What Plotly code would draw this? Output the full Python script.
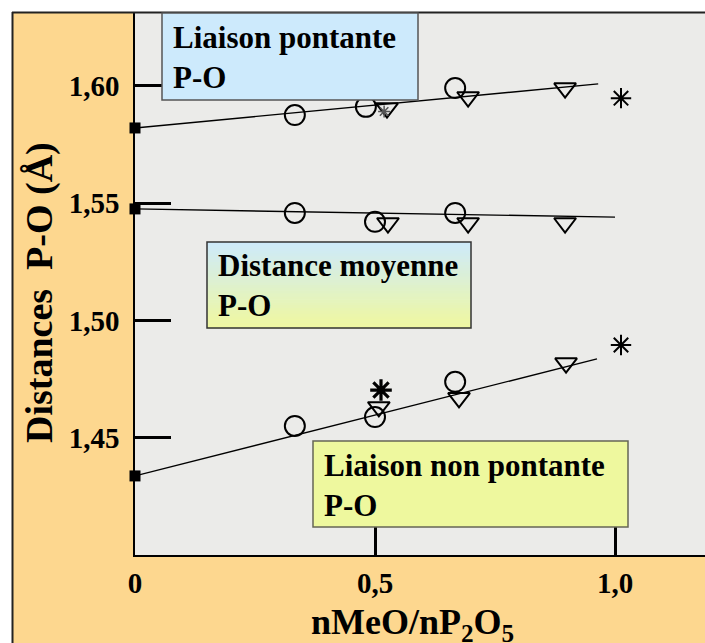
import plotly.graph_objects as go

# ---------------- data ----------------
x_tick_vals = [0.0, 0.5, 1.0]
x_tick_text = ["0", "0,5", "1,0"]
y_tick_vals = [1.45, 1.50, 1.55, 1.60]
y_tick_text = ["1,45", "1,50", "1,55", "1,60"]

# bridging P-O ("Liaison pontante")
br_fit_x = [0.0, 0.965]
br_fit_y = [1.582, 1.6008]
br_circ_x = [0.333, 0.481, 0.667]
br_circ_y = [1.5875, 1.591, 1.599]
br_tri_x = [0.525, 0.694, 0.896]
br_tri_y = [1.5905, 1.5952, 1.599]
br_star_x = [1.0125]
br_star_y = [1.5947]
br_small_star_x = [0.519]
br_small_star_y = [1.589]

# mean P-O ("Distance moyenne")
mean_fit_x = [0.0, 1.0]
mean_fit_y = [1.5475, 1.544]
mean_circ_x = [0.333, 0.5, 0.667]
mean_circ_y = [1.5458, 1.542, 1.5458]
mean_tri_x = [0.527, 0.694, 0.896]
mean_tri_y = [1.5415, 1.5415, 1.5415]

# non-bridging P-O ("Liaison non pontante")
nb_fit_x = [0.0, 0.9625]
nb_fit_y = [1.4337, 1.4836]
nb_circ_x = [0.333, 0.5, 0.667]
nb_circ_y = [1.455, 1.4588, 1.4738]
nb_tri_x = [0.508, 0.675, 0.898]
nb_tri_y = [1.4631, 1.467, 1.4818]
nb_bold_star_x = [0.5125]
nb_bold_star_y = [1.4703]
nb_star_x = [1.0125]
nb_star_y = [1.4895]

# ---------------- layout helpers ----------------
W, H = 705, 643
L, R, T, B = 135, 705, 13, 555   # plot area in pixels

def px(x):  # pixel x -> paper coordinate
    return (x - L) / (R - L)
def py(y):  # pixel y -> paper coordinate
    return (B - y) / (B - T)

SERIF = "Liberation Serif"
ORANGE = "#FDD78F"
PLOTBG = "#EBEBE9"

fig = go.Figure()

def add_group(fx, fy, cx, cy, tx, ty):
    fig.add_trace(go.Scatter(x=fx, y=fy, mode="lines",
                             line=dict(color="black", width=1.4),
                             hoverinfo="skip", showlegend=False))
    fig.add_trace(go.Scatter(x=[fx[0]], y=[fy[0]], mode="markers",
                             marker=dict(symbol="square", size=11, color="black"),
                             cliponaxis=False, showlegend=False))
    fig.add_trace(go.Scatter(x=cx, y=cy, mode="markers",
                             marker=dict(symbol="circle-open", size=20,
                                         color="black", line=dict(width=2)),
                             showlegend=False))
    fig.add_trace(go.Scatter(x=tx, y=ty, mode="markers",
                             marker=dict(symbol="triangle-down-open", size=19,
                                         color="black", line=dict(width=2)),
                             showlegend=False))

add_group(br_fit_x, br_fit_y, br_circ_x, br_circ_y, br_tri_x, br_tri_y)
add_group(mean_fit_x, mean_fit_y, mean_circ_x, mean_circ_y, mean_tri_x, mean_tri_y)
add_group(nb_fit_x, nb_fit_y, nb_circ_x, nb_circ_y, nb_tri_x, nb_tri_y)

def add_star(xs, ys, size, width, color="black"):
    fig.add_trace(go.Scatter(x=xs, y=ys, mode="markers",
                             marker=dict(symbol="asterisk-open", size=size,
                                         color=color, line=dict(width=width, color=color)),
                             cliponaxis=False, showlegend=False))

add_star(br_star_x, br_star_y, 17, 2)
add_star(br_small_star_x, br_small_star_y, 10, 1.5, "#555555")
add_star(nb_star_x, nb_star_y, 17, 2)
add_star(nb_bold_star_x, nb_bold_star_y, 18, 3.2)

shapes = []
# white margin strips outside the orange frame
shapes.append(dict(type="rect", xref="paper", yref="paper", x0=px(0), x1=px(W), y0=py(12), y1=py(0),
                   fillcolor="white", line=dict(width=0), layer="above"))
shapes.append(dict(type="rect", xref="paper", yref="paper", x0=px(0), x1=px(12), y0=py(H), y1=py(0),
                   fillcolor="white", line=dict(width=0), layer="above"))
# frame lines
shapes.append(dict(type="line", xref="paper", yref="paper", x0=px(12), x1=px(W), y0=py(12.5), y1=py(12.5),
                   line=dict(color="#222222", width=2), layer="above"))
shapes.append(dict(type="line", xref="paper", yref="paper", x0=px(12.5), x1=px(12.5), y0=py(12), y1=py(H),
                   line=dict(color="#222222", width=2), layer="above"))

# label boxes
shapes.append(dict(type="rect", xref="paper", yref="paper", x0=px(162), x1=px(418), y0=py(100), y1=py(13),
                   fillcolor="#CDEAFC", line=dict(color="#555555", width=1.5), layer="above"))
# gradient box (blue -> yellow)
top_rgb = (205, 234, 252)
bot_rgb = (240, 248, 158)
n = 30
y_top, y_bot = 242, 328
for i in range(n):
    t = (i + 0.5) / n
    c = tuple(int(round(top_rgb[k] + (bot_rgb[k] - top_rgb[k]) * t)) for k in range(3))
    ya = y_top + (y_bot - y_top) * i / n
    yb = y_top + (y_bot - y_top) * (i + 1) / n
    shapes.append(dict(type="rect", xref="paper", yref="paper", x0=px(207), x1=px(471),
                       y0=py(yb + 0.5), y1=py(ya),
                       fillcolor="rgb(%d,%d,%d)" % c, line=dict(width=0), layer="above"))
shapes.append(dict(type="rect", xref="paper", yref="paper", x0=px(207), x1=px(471), y0=py(y_bot), y1=py(y_top),
                   fillcolor="rgba(0,0,0,0)", line=dict(color="#333333", width=1.5), layer="above"))
shapes.append(dict(type="rect", xref="paper", yref="paper", x0=px(313), x1=px(628), y0=py(527), y1=py(441),
                   fillcolor="#EEF89E", line=dict(color="#666655", width=1.5), layer="above"))

box_font = dict(family=SERIF, size=31, color="black", weight="bold")
annotations = [
    dict(text="Liaison pontante<br>P-O", xref="paper", yref="paper", x=px(171), y=py(58),
         xanchor="left", yanchor="middle", align="left", showarrow=False, font=box_font),
    dict(text="Distance moyenne<br>P-O", xref="paper", yref="paper", x=px(216), y=py(285),
         xanchor="left", yanchor="middle", align="left", showarrow=False, font=box_font),
    dict(text="Liaison non pontante<br>P-O", xref="paper", yref="paper", x=px(322), y=py(485),
         xanchor="left", yanchor="middle", align="left", showarrow=False, font=box_font),
    dict(text="Distances  P-O (Å)", xref="paper", yref="paper", x=px(39), y=py(293),
         xanchor="center", yanchor="middle", textangle=-90, showarrow=False,
         font=dict(family=SERIF, size=38, color="black", weight="bold")),
    dict(text="nMeO/nP<sub>2</sub>O<sub>5</sub>", xref="paper", yref="paper", x=px(412), y=py(624),
         xanchor="center", yanchor="middle", showarrow=False,
         font=dict(family=SERIF, size=36, color="black", weight="bold")),
]

tick_font = dict(family=SERIF, size=29, color="black", weight="bold")
fig.update_layout(
    width=W, height=H,
    margin=dict(l=L, r=W - R, t=T, b=H - B, pad=0, autoexpand=False),
    paper_bgcolor=ORANGE,
    plot_bgcolor=PLOTBG,
    shapes=shapes,
    annotations=annotations,
    showlegend=False,
    xaxis=dict(range=[0, (R - L) / 480.0], tickvals=x_tick_vals, ticktext=x_tick_text,
               ticks="inside", ticklen=35, tickwidth=3, tickcolor="black",
               showline=True, linecolor="black", linewidth=2, showgrid=False, zeroline=False,
               tickfont=tick_font, ticklabelstandoff=1),
    yaxis=dict(range=[1.400, 1.631], tickvals=y_tick_vals, ticktext=y_tick_text,
               ticks="inside", ticklen=36, tickwidth=3, tickcolor="black",
               showline=True, linecolor="black", linewidth=1.5, showgrid=False, zeroline=False,
               tickfont=tick_font, ticklabelstandoff=8),
)

fig.write_html(
    "out.html",
    config={"displayModeBar": False},
    post_script="document.body.style.margin='0';document.body.style.overflow='hidden';",
)
